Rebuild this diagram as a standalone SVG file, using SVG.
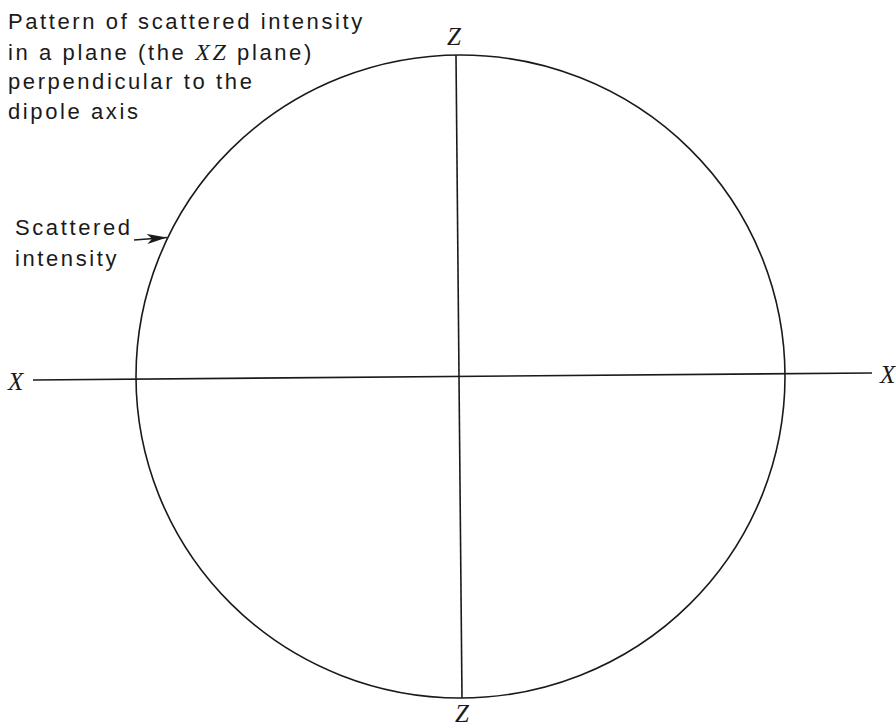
<svg xmlns="http://www.w3.org/2000/svg" width="896" height="728" viewBox="0 0 896 728">
<defs>
<style>
.lbl{font-family:"Liberation Sans",Arial,sans-serif;font-size:22px;letter-spacing:2.6px;fill:#1a1a1a}
.ax{font-family:"Liberation Serif","Times New Roman",serif;font-style:italic;font-size:25px;fill:#1a1a1a}
.ln{stroke:#1a1a1a;stroke-width:1.6;fill:none}
</style>
<marker id="ah" viewBox="0 0 20 10" refX="20" refY="5" markerWidth="20" markerHeight="10" markerUnits="userSpaceOnUse" orient="auto">
<path d="M0,0 L20,5 L0,10 L5,5 Z" fill="#1a1a1a"/>
</marker>
</defs>
<rect width="896" height="728" fill="#fff"/>
<g id="caption">
<text class="lbl" x="8" y="29">Pattern of scattered intensity</text>
<text class="lbl" x="8" y="60">in a plane (the <tspan class="ax" style="font-size:24px">XZ</tspan> plane)</text>
<text class="lbl" x="8" y="89">perpendicular to the</text>
<text class="lbl" x="8" y="119">dipole axis</text>
</g>
<g id="intensity-pattern">
<ellipse class="ln" cx="460.5" cy="376.5" rx="324.5" ry="321.5"/>
</g>
<g id="axes">
<line class="ln" x1="33" y1="380" x2="872" y2="373"/>
<line class="ln" x1="456" y1="55" x2="462" y2="698"/>
<text class="ax" x="8" y="390">X</text>
<text class="ax" x="880" y="383">X</text>
<text class="ax" x="447" y="45">Z</text>
<text class="ax" x="455" y="722">Z</text>
</g>
<g id="scattered-label">
<text class="lbl" x="15" y="235">Scattered</text>
<text class="lbl" x="15" y="266">intensity</text>
</g>
<g id="connectors">
<line class="ln" x1="134" y1="240" x2="167" y2="237.5" marker-end="url(#ah)"/>
</g>
</svg>
